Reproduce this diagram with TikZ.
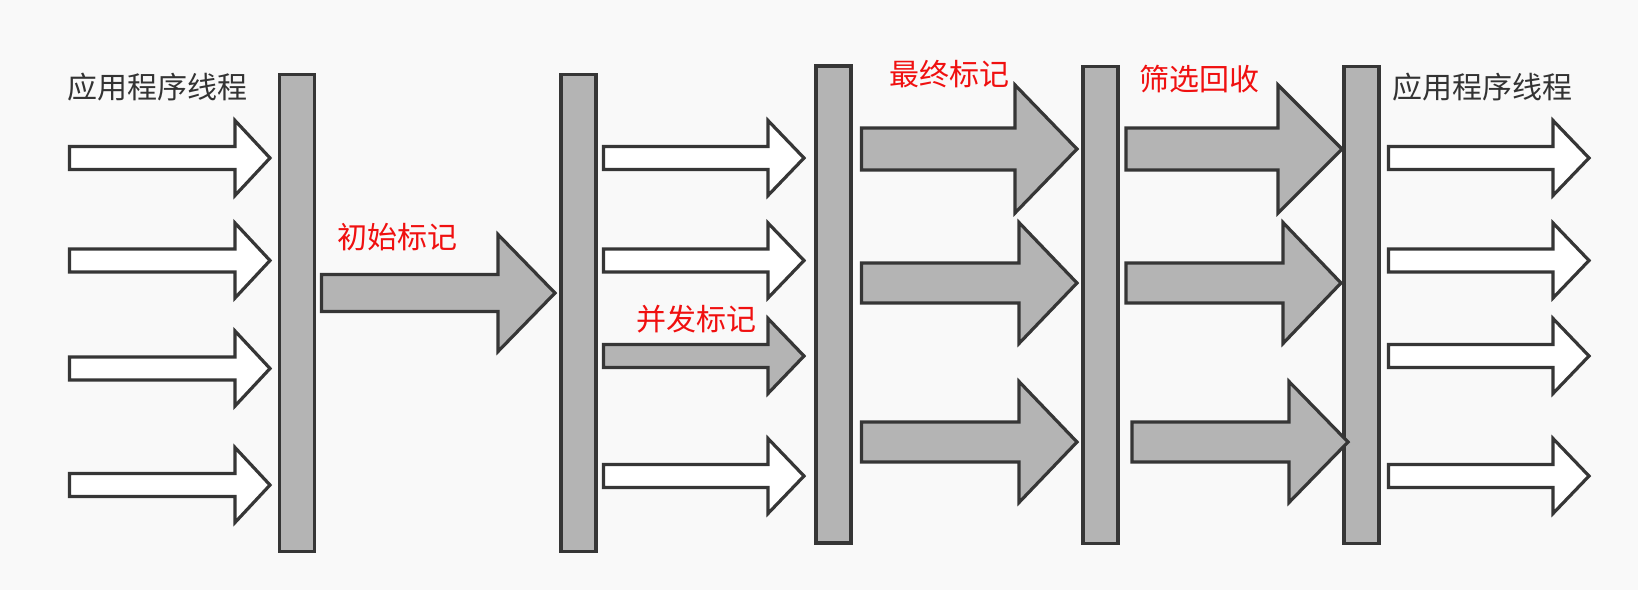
\documentclass[tikz,border=0pt]{standalone}
\usepackage{fontspec}
\newfontfamily\cjk{Noto Sans CJK SC}
\definecolor{bg}{HTML}{F9F9F9}
\definecolor{barfill}{HTML}{B4B4B4}
\definecolor{edge}{HTML}{363636}
\definecolor{txtgray}{HTML}{333333}
\definecolor{txtred}{HTML}{F01010}
\newcommand\blockarrow[7]{% fill, x0, x1, x2, yc, hs, hh
  \draw[arrowshape, fill=#1] (#2,#5-#6) -- (#3,#5-#6) -- (#3,#5-#7) -- (#4,#5)
    -- (#3,#5+#7) -- (#3,#5+#6) -- (#2,#5+#6) -- cycle;}
\begin{document}
\begin{tikzpicture}[x=1pt, y=-1pt,
  bar/.style={draw=edge, fill=barfill, line width=3.2pt, rectangle, inner sep=0pt, minimum width=35pt, minimum height=477pt},
  arrowshape/.style={draw=edge, line width=3.2pt, line join=miter, miter limit=10},
  lbl/.style={anchor=base west, inner sep=0pt, font=\cjk\fontsize{30}{30}\selectfont},
  ]
\fill[bg] (0,0) rectangle (1638,590);
\useasboundingbox (0,0) rectangle (1638,590);
% bars
\node[bar] (b1) at (297,313) {};
\node[bar] (b2) at (578.5,313) {};
\node[bar] (b3) at (833.5,304.5) {};
\node[bar] (b4) at (1100.5,305) {};
\node[bar] (b5) at (1361.5,305) {};
% column A: white arrows
\blockarrow{white}{69.5}{235}{270}{158}{11.5}{37.5}
\blockarrow{white}{69.5}{235}{270}{260.5}{11.5}{37.5}
\blockarrow{white}{69.5}{235}{270}{368.5}{11.5}{37.5}
\blockarrow{white}{69.5}{235}{270}{485}{11.5}{37.5}
% initial mark
\blockarrow{barfill}{321.5}{498}{555}{293}{18.5}{58.5}
% column B
\blockarrow{white}{603.5}{768}{804}{158}{11.5}{37.5}
\blockarrow{white}{603.5}{768}{804}{260.5}{11.5}{37.5}
\blockarrow{barfill}{603.5}{768}{804}{356}{11.5}{37.5}
\blockarrow{white}{603.5}{768}{804}{476}{11.5}{37.5}
% column C
\blockarrow{barfill}{861.5}{1015}{1077}{149}{21}{64}
\blockarrow{barfill}{861.5}{1019}{1077}{283}{20}{60.5}
\blockarrow{barfill}{861.5}{1019}{1077}{442}{20}{60.5}
% column D
\blockarrow{barfill}{1126}{1278}{1342}{149}{21}{64}
\blockarrow{barfill}{1126}{1283}{1341}{283}{20}{60.5}
\blockarrow{barfill}{1132}{1289}{1348}{442}{20}{60.5}
% column E
\blockarrow{white}{1388.5}{1553}{1589}{158}{11.5}{37.5}
\blockarrow{white}{1388.5}{1553}{1589}{260.5}{11.5}{37.5}
\blockarrow{white}{1388.5}{1553}{1589}{356}{11.5}{37.5}
\blockarrow{white}{1388.5}{1553}{1589}{476}{11.5}{37.5}
% labels
\node[lbl, text=txtgray] (app1) at (67,98) {应用程序线程};
\node[lbl, text=txtred] (init) at (337,248) {初始标记};
\node[lbl, text=txtred] (conc) at (636,330) {并发标记};
\node[lbl, text=txtred] (final) at (889,85) {最终标记};
\node[lbl, text=txtred] (sweep) at (1139,90) {筛选回收};
\node[lbl, text=txtgray] (app2) at (1392,98) {应用程序线程};
\end{tikzpicture}
\end{document}
